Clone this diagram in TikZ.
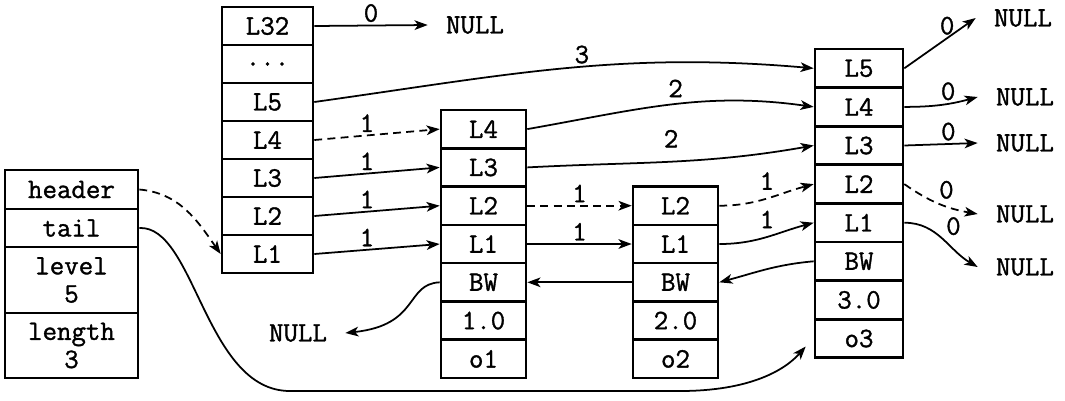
\documentclass[tikz,border=0pt]{standalone}
\usepackage{fontspec}
\newfontfamily\cellfont{Latin Modern Mono}[FakeBold=1.2]
\usetikzlibrary{arrows.meta}

\tikzset{
  cell/.style={draw,line width=1.5pt,inner sep=0pt,align=center,
    font=\cellfont\fontsize{16}{16}\selectfont},
  hcell/.style={cell,minimum width=1.82cm,minimum height=0.76cm},
  ncell/.style={cell,minimum width=1.70cm,minimum height=0.766cm},
  tcell/.style={cell,minimum width=1.76cm,minimum height=0.772cm},
  link/.style={line width=1pt,-{Stealth[length=7.5pt,width=5.5pt,inset=2pt]}},
  skip/.style={link,dash pattern=on 4.5pt off 3pt},
  lbl/.style={font=\cellfont\fontsize{16}{16}\selectfont,inner sep=1.5pt},
  nul/.style={font=\cellfont\fontsize{16}{16}\selectfont,inner ysep=0pt,inner xsep=0.36cm},
}

\begin{document}
\begin{tikzpicture}[x=0.02cm,y=-0.02cm]
  \useasboundingbox (0,0) rectangle (1065,400);

  \node[cell,minimum width=2.66cm,minimum height=0.78cm] (hd) at (71.5,189.5) {header};
  \node[cell,minimum width=2.66cm,minimum height=0.76cm] (tl) at (71.5,228) {tail};
  \node[cell,minimum width=2.66cm,minimum height=1.32cm] (lv) at (71.5,280) {level\\5};
  \node[cell,minimum width=2.66cm,minimum height=1.30cm] (ln) at (71.5,345.5) {length\\3};

  \node[hcell] (h32) at (267.5,26) {L32};
  \node[hcell] (hdot) at (267.5,64) {...};
  \node[hcell] (h5) at (267.5,102) {L5};
  \node[hcell] (h4) at (267.5,140) {L4};
  \node[hcell] (h3) at (267.5,178) {L3};
  \node[hcell] (h2) at (267.5,216) {L2};
  \node[hcell] (h1) at (267.5,254) {L1};

  \node[ncell] (a4) at (483.5,129.1) {L4};
  \node[ncell] (a3) at (483.5,167.4) {L3};
  \node[ncell] (a2) at (483.5,205.7) {L2};
  \node[ncell] (a1) at (483.5,244) {L1};
  \node[ncell] (abw) at (483.5,282.3) {BW};
  \node[ncell] (asc) at (483.5,320.6) {1.0};
  \node[ncell] (aob) at (483.5,358.9) {o1};

  \node[ncell] (b2) at (675.5,205.7) {L2};
  \node[ncell] (b1) at (675.5,244) {L1};
  \node[ncell] (bbw) at (675.5,282.3) {BW};
  \node[ncell] (bsc) at (675.5,320.6) {2.0};
  \node[ncell] (bob) at (675.5,358.9) {o2};

  \node[tcell] (c5) at (859,68.3) {L5};
  \node[tcell] (c4) at (859,106.9) {L4};
  \node[tcell] (c3) at (859,145.5) {L3};
  \node[tcell] (c2) at (859,184.1) {L2};
  \node[tcell] (c1) at (859,222.7) {L1};
  \node[tcell] (cbw) at (859,261.3) {BW};
  \node[tcell] (csc) at (859,299.9) {3.0};
  \node[tcell] (cob) at (859,338.5) {o3};

  \node[nul] (nh) at (475,25) {NULL};
  \node[nul] (n5) at (1023,18) {NULL};
  \node[nul] (n4) at (1025,97) {NULL};
  \node[nul] (n3) at (1025,143) {NULL};
  \node[nul] (n2) at (1025,214) {NULL};
  \node[nul] (n1) at (1025,267) {NULL};
  \node[nul] (nb) at (298,333) {NULL};

  \draw[link] (h32.east) -- node[lbl,above] {0} (nh.west);
  \draw[link] (h5.east) to[out=8,in=175] node[lbl,above,pos=0.54] {3} (c5.west);
  \draw[skip] (h4.east) -- node[lbl,above,pos=0.42] {1} (a4.west);
  \draw[link] (h3.east) -- node[lbl,above,pos=0.42] {1} (a3.west);
  \draw[link] (h2.east) -- node[lbl,above,pos=0.42] {1} (a2.west);
  \draw[link] (h1.east) -- node[lbl,above,pos=0.42] {1} (a1.west);
  \draw[link] (a4.east) to[out=10,in=172] node[lbl,above=2pt,pos=0.52] {2} (c4.west);
  \draw[link] (a3.east) to[out=3,in=190] node[lbl,above=6pt,pos=0.5] {2} (c3.west);
  \draw[skip] (a2.east) -- node[lbl,above] {1} (b2.west);
  \draw[link] (a1.east) -- node[lbl,above] {1} (b1.west);
  \draw[skip] (b2.east) to[out=0,in=195] node[lbl,above=3pt,pos=0.5] {1} (c2.west);
  \draw[link] (b1.east) to[out=0,in=195] node[lbl,above=3pt,pos=0.5] {1} (c1.west);
  \draw[link] (bbw.west) -- (abw.east);
  \draw[link] (cbw.west) to[out=185,in=15] (bbw.east);
  \draw[link] (c5.east) -- node[lbl,above,pos=0.6] {0} (n5.west);
  \draw[link] (c4.east) to[out=0,in=195] node[lbl,above,pos=0.6] {0} (n4.west);
  \draw[link] (c3.east) -- node[lbl,above,pos=0.6] {0} (n3.west);
  \draw[skip] (c2.east) to[out=-35,in=170] node[lbl,above right,pos=0.45] {0} (n2.west);
  \draw[link] (c1.east) to[out=0,in=150] node[lbl,above right,pos=0.5] {0} (n1.west);
  \draw[skip] (hd.east) to[out=-5,in=125] (h1.west);
  \draw[link] (tl.east) .. controls (195,225) and (205,391) .. (290,391) -- (680,391)
    .. controls (750,391) and (785,370) .. ([xshift=-0.16cm,yshift=-0.16cm]cob.west);
  \draw[link] (abw.west) .. controls (405,284) and (420,325) .. (nb.east);
\end{tikzpicture}
\end{document}
